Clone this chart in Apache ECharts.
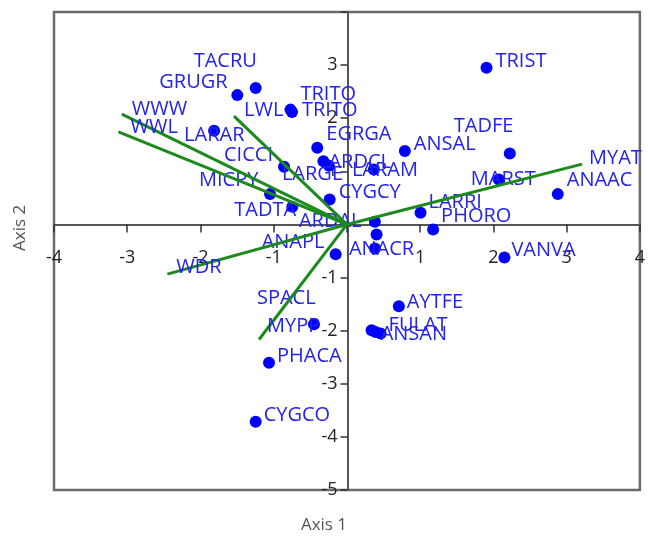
<!DOCTYPE html>
<html><head><meta charset="utf-8">
<script src="https://cdn.jsdelivr.net/npm/echarts@6/dist/echarts.min.js"></script>
<style>html,body{margin:0;padding:0;background:#fff}#c{width:648px;height:538px}</style>
</head><body><div id="c"></div>
<script>
// ---------- DATA ----------
const speciesNames = ['TACRU','GRUGR','TRITO','TRITO','LARAR','EGRGA','ANSAL','TADFE','TRIST','CICCI',
  'ARDCL','LARGE','LARAM','MICPY','TADTA','CYGCY','ARDAL','ANACR','ANAPL','LARRI',
  'PHORO','MARST','ANAAC','VANVA','AYTFE','FULAT','ANSAN','SPACL','PHACA','CYGCO'];
const speciesAxis1 = [-1.246,-1.497,-0.771,-0.750,-1.814,-0.405,0.791,2.224,1.906,-0.859,
  -0.321,-0.246,0.368,-1.050,-0.746,-0.236,0.382,0.382,-0.154,1.005,
  1.177,2.074,2.879,2.151,0.709,0.460,0.392,-0.450,-1.064,-1.246];
const speciesAxis2 = [2.570,2.435,2.162,2.115,1.763,1.443,1.381,1.337,2.949,1.085,
  1.192,1.107,1.036,0.571,0.335,0.471,0.049,-0.452,-0.559,0.218,
  -0.094,0.847,0.571,-0.621,-1.539,-2.053,-2.023,-1.878,-2.606,-3.717];
// dots whose labels are hidden in the reference
const hiddenAxis1 = [0.405, 0.337];
const hiddenAxis2 = [-0.188, -1.991];

const vectorNames = ['WWW','WWL','LWL','WDR','MYPP','MYAT'];
const vectorAxis1 = [-3.074,-3.120,-1.542,-2.452,-1.200,3.210];
const vectorAxis2 = [2.077,1.744,2.040,-0.936,-2.166,1.136];

const xTicks = [-4,-3,-2,-1,0,1,2,3,4];
const yTicks = [-5,-4,-3,-2,-1,0,1,2,3,4];

// ---------- STYLE ----------
const speciesLabelOffsets = [[-62,-27],[-78,-13],[10,-15],[10,-2],[-30,4],[9,-14],[9,-7],[-56,-27],[9,-7],[-60,-12],
  [5,1],[-47,9],[-22,1],[-71,-14],[-58,4],[9,-7],[-76,-1],[-26,1],[-74,-12],[8,-11],
  [8,-13],[-28,0],[9,-14],[7,-7],[8,-4],[8,-8],[5,2],[-57,-26],[8,-7],[8,-7]];
const vectorLabelOffsets = [[10,-5],[12,-5],[10,-6],[9,-7],[8,-13],[7,-6]];
const labelFont = {fontFamily:'Open Sans', fontSize:20, color:'#2323ee'};
const dotColor = '#0000ff';
const vecColor = '#1c8a1c';
const DOT = 12;

const W = 648, H = 538;
const G = {left:54, right:7, top:12, bottom:48};
const gw = W - G.left - G.right, gh = H - G.top - G.bottom;
const xMin = xTicks[0], xMax = xTicks[xTicks.length-1];
const yMin = yTicks[0], yMax = yTicks[yTicks.length-1];
// distance of zero lines from grid edges (for axis offsets)
const xAxisOffset = -gh * (0 - yMin) / (yMax - yMin);
const yAxisOffset = -gw * (0 - xMin) / (xMax - xMin);

const chart = echarts.init(document.getElementById('c'), null, {renderer:'canvas'});

const speciesData = speciesNames.map((n,i)=>({
  name:n, value:[speciesAxis1[i], speciesAxis2[i]],
  label:{position:[DOT/2 + speciesLabelOffsets[i][0], DOT/2 + speciesLabelOffsets[i][1]]}
}));
const hiddenData = hiddenAxis1.map((x,i)=>[x, hiddenAxis2[i]]);
const vecLines = vectorNames.map((n,i)=>({coords:[[0,0],[vectorAxis1[i],vectorAxis2[i]]]}));
const vecLabels = vectorNames.map((n,i)=>({
  name:n, value:[vectorAxis1[i], vectorAxis2[i]],
  label:{position:[1 + vectorLabelOffsets[i][0], 1 + vectorLabelOffsets[i][1]]}
}));

const commonLabel = Object.assign({show:true, align:'left', verticalAlign:'middle',
  formatter:p=>p.name}, labelFont);

chart.setOption({
  animation:false,
  grid:Object.assign({show:true, borderColor:'#6b6b6b', borderWidth:2.5, backgroundColor:'transparent'}, G),
  xAxis:{type:'value', min:xMin, max:xMax, interval:1, offset:xAxisOffset,
    axisLine:{onZero:false, lineStyle:{color:'#555', width:2}},
    axisTick:{show:true, length:8, lineStyle:{color:'#333', width:1.5}},
    axisLabel:{margin:24, fontFamily:'Open Sans', fontSize:18, color:'#222', showMinLabel:true, showMaxLabel:true,
      formatter:v=> v===0 ? '' : String(v)},
    splitLine:{show:false}},
  yAxis:{type:'value', min:yMin, max:yMax, interval:1, offset:yAxisOffset,
    axisLine:{onZero:false, lineStyle:{color:'#555', width:2}},
    axisTick:{show:true, length:7, lineStyle:{color:'#333', width:1.5}},
    axisLabel:{margin:10, fontFamily:'Open Sans', fontSize:18, color:'#222', padding:[8,0,0,0],
      showMinLabel:true, showMaxLabel:true,
      formatter:v=> (v===0 || v===yMax) ? '' : String(v)},
    splitLine:{show:false}},
  graphic:[
    {type:'text', left:'center', top:517, style:{text:'Axis 1', font:'17px "Open Sans"', fill:'#555'}},
    {type:'text', x:12, y:251, rotation:Math.PI/2, style:{text:'Axis 2', font:'17px "Open Sans"', fill:'#555'}}
  ],
  series:[
    {type:'scatter', symbol:'circle', symbolSize:DOT, itemStyle:{color:dotColor, opacity:1},
      data:speciesData, label:commonLabel, labelLayout:{hideOverlap:false}, z:3},
    {type:'scatter', symbol:'circle', symbolSize:DOT, itemStyle:{color:dotColor, opacity:1},
      data:hiddenData, label:{show:false}, z:3},
    {type:'lines', coordinateSystem:'cartesian2d', polyline:false,
      lineStyle:{color:vecColor, width:3, opacity:1}, data:vecLines, z:4, silent:true},
    {type:'scatter', symbol:'rect', symbolSize:2, itemStyle:{color:'rgba(255,255,255,0)', opacity:1},
      data:vecLabels, label:commonLabel, labelLayout:{hideOverlap:false}, z:5}
  ]
});
</script></body></html>
